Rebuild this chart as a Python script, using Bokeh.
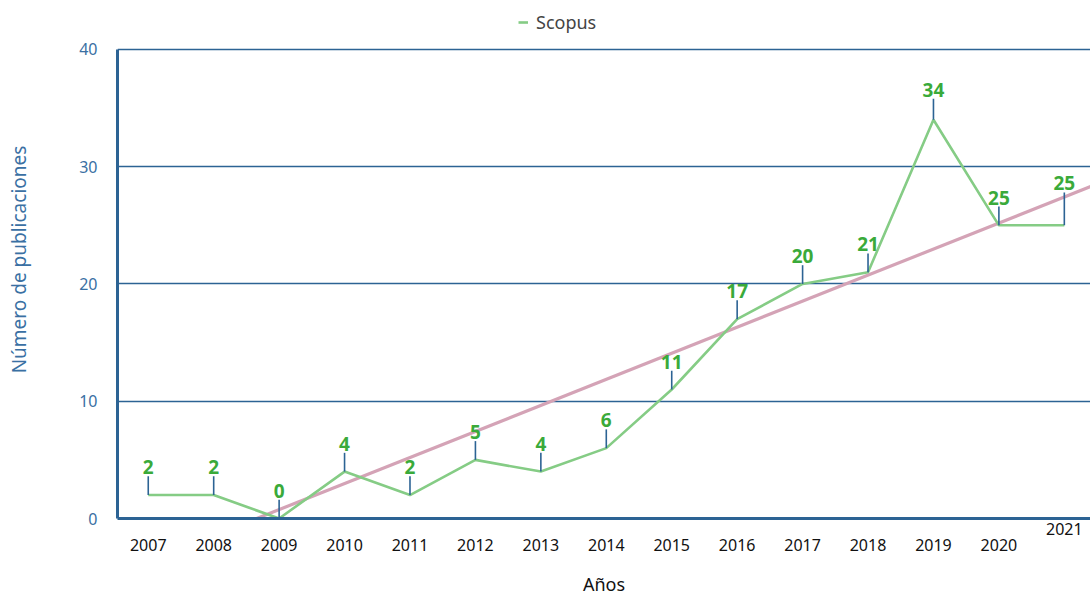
import numpy as np
from bokeh.plotting import figure
from bokeh.models import (ColumnDataSource, Legend, LegendItem, LinearAxis,
                          FixedTicker, Range1d)
from bokeh.core.properties import value
from bokeh.embed import file_html
from bokeh.resources import INLINE

years = [2007, 2008, 2009, 2010, 2011, 2012, 2013, 2014, 2015, 2016,
         2017, 2018, 2019, 2020, 2021]
scopus = [2, 2, 0, 4, 2, 5, 4, 6, 11, 17, 20, 21, 34, 25, 25]
series_name = "Scopus"
x_title = "Años"
y_title = "Número de publicaciones"
y_ticks = [0, 10, 20, 30, 40]

# leader-line length (data units) per label
lead = [1.6] * len(years)
lead[12] = 1.8
lead[-1] = 2.8

FONT = "Noto Sans"
GREEN_LINE = "#85cc85"
GREEN_TXT = "#3aaa3a"
BLUE = "#2c6394"
PINK = "#d4a3b6"

W, H = 1090, 598
BL, BT, BB = 117, 0, 79
PX_PER_UNIT = 11.75           # 0 -> 40 spans 470 px
Y_TOP = 40 + 49 / PX_PER_UNIT  # room above 40 for the legend

p = figure(width=W, height=H, output_backend="svg", toolbar_location=None,
           x_range=Range1d(2006.53, 2021.4), y_range=Range1d(0, Y_TOP),
           min_border_left=BL, min_border_right=0, min_border_top=BT,
           min_border_bottom=BB)
p.outline_line_color = None
p.background_fill_color = "white"

# trend line (least squares fit of the series)
slope, intercept = np.polyfit(years, scopus, 1)
x0 = -intercept / slope
tx = [x0, 2022]
ty = [slope * x + intercept for x in tx]
p.line(tx, ty, line_color=PINK, line_width=3.2)

src = ColumnDataSource(dict(x=years, y=scopus,
                            ytop=[v + l for v, l in zip(scopus, lead)],
                            lab=[str(v) for v in scopus]))
r = p.line("x", "y", source=src, line_color=GREEN_LINE, line_width=2.6)
p.segment(x0="x", y0="y", x1="x", y1="ytop", source=src,
          line_color=BLUE, line_width=1.6)
p.text(x="x", y="ytop", text="lab", source=src, text_color=GREEN_TXT,
       text_font=value(FONT), text_font_style="bold", text_font_size="19px",
       text_align="center", text_baseline="bottom", y_offset=-2)

# main x axis (labels 2007-2020, no line: the line belongs to the inner axis)
xa = p.xaxis[0]
xa.ticker = FixedTicker(ticks=years[:-1])
xa.axis_line_color = None
xa.major_tick_line_color = None
xa.minor_tick_line_color = None
xa.major_label_text_color = "#111111"
xa.major_label_text_font = FONT
xa.major_label_text_font_size = "16px"
xa.major_label_standoff = -5
xa.axis_label = x_title
xa.axis_label_text_font = FONT
xa.axis_label_text_font_style = "normal"
xa.axis_label_text_font_size = "18px"
xa.axis_label_text_color = "#111111"
xa.axis_label_standoff = 18

# inner axis: carries the axis line and the raised last year label
xa2 = LinearAxis(ticker=FixedTicker(ticks=years[-1:]))
xa2.axis_line_color = BLUE
xa2.axis_line_width = 3
xa2.major_tick_line_color = None
xa2.minor_tick_line_color = None
xa2.major_label_text_color = "#111111"
xa2.major_label_text_font = FONT
xa2.major_label_text_font_size = "16px"
xa2.major_label_standoff = -2
p.add_layout(xa2, "below")
p.below = [xa2, xa]

p.yaxis.ticker = FixedTicker(ticks=y_ticks)
p.yaxis.bounds = (0, 40)
p.yaxis.axis_line_color = BLUE
p.yaxis.axis_line_width = 3
p.yaxis.major_tick_line_color = None
p.yaxis.minor_tick_line_color = None
p.yaxis.major_label_text_color = "#3a70a3"
p.yaxis.major_label_text_font = FONT
p.yaxis.major_label_text_font_size = "16px"
p.yaxis.major_label_standoff = 14
p.yaxis.axis_label = y_title
p.yaxis.axis_label_text_font = FONT
p.yaxis.axis_label_text_font_style = "normal"
p.yaxis.axis_label_text_font_size = "19px"
p.yaxis.axis_label_text_color = "#3a70a3"
p.yaxis.axis_label_standoff = 44

p.xgrid.grid_line_color = None
p.ygrid.grid_line_color = BLUE
p.ygrid.grid_line_width = 1.6
p.ygrid.ticker = FixedTicker(ticks=y_ticks)

frame_h = H - BT - BB
legend = Legend(items=[LegendItem(label=series_name, renderers=[r])],
                orientation="horizontal", location=(401, frame_h - 35),
                label_text_font=FONT, label_text_font_size="18px",
                label_text_color="#444444", glyph_width=10, glyph_height=18,
                border_line_color=None, background_fill_alpha=0,
                padding=4, margin=0, label_standoff=8)
p.add_layout(legend)

open("out.html", "w").write(file_html(p, INLINE))
